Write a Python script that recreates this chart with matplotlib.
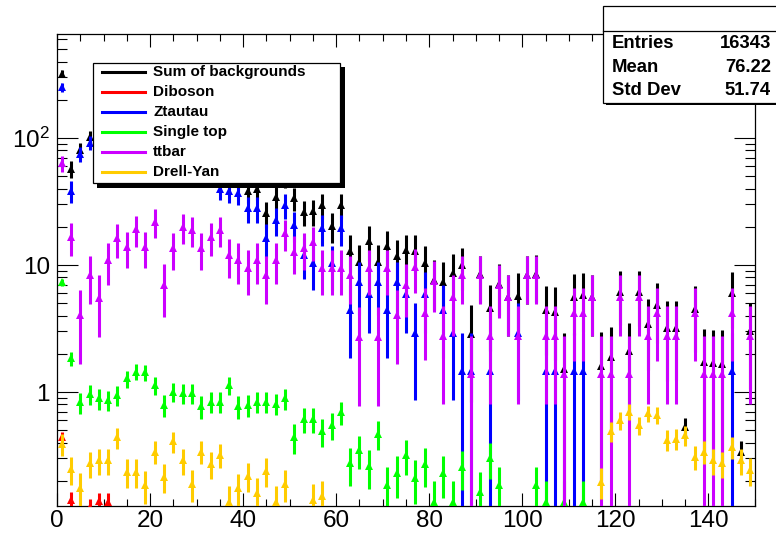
import numpy as np
import matplotlib
matplotlib.use("Agg")
import matplotlib.pyplot as plt
from matplotlib.patches import Rectangle
from matplotlib.lines import Line2D
from matplotlib.ticker import FixedLocator, FixedFormatter, MultipleLocator, LogLocator, NullFormatter

plt.rcParams.update({
    "font.family": ["Liberation Sans", "DejaVu Sans"],
    "mathtext.fontset": "custom",
    "mathtext.rm": "Liberation Sans",
    "mathtext.it": "Liberation Sans:italic",
    "mathtext.bf": "Liberation Sans:bold",
})

# --- binning: 75 bins of width 2 from 0 to 150 ---
bin_edges = np.arange(0, 152, 2)
centers = 0.5 * (bin_edges[:-1] + bin_edges[1:])

# --- values ---
sum_bkg = [322, 57.2, 80.0, 101.7, 101.8, 110.2, 113.6, 107.4, 108.8, 97.5,
           99.4, 80.0, 80.9, 83.3, 78.1, 68.6, 67.8, 60.1, 51.8, 48.9,
           38.3, 40.0, 25.6, 34.5, 48.6, 33.7, 26.1, 26.4, 29.5, 20.3,
           29.5, 13.0, 10.5, 15.5, 10.6, 14.0, 11.7, 13.1, 12.9, 10.3,
           7.64, 7.41, 8.70, 10.0, 2.86, 8.46, 4.55, 7.14, 5.56, 5.72,
           8.30, 8.49, 4.39, 4.25, 1.53, 5.64, 5.78, 5.56, 1.59, 1.88,
           6.16, 2.09, 6.11, 3.46, 4.83, 3.20, 3.21, 0.53, 4.48, 1.73,
           1.68, 1.66, 6.01, 0.34, 3.02]
sum_err = [21.4, 8.92, 10.8, 12.1, 12.1, 12.6, 12.8, 12.4, 12.5, 11.8,
           11.9, 10.7, 10.8, 10.9, 10.6, 9.9, 9.8, 9.2, 8.6, 8.3,
           7.4, 7.5, 5.9, 7.0, 8.3, 6.9, 6.0, 6.0, 6.45, 5.3,
           6.45, 4.24, 3.83, 4.65, 3.83, 4.43, 4.06, 4.27, 4.23, 3.78,
           3.23, 3.22, 3.48, 3.7, 2.02, 3.4, 2.45, 3.11, 2.78, 2.86,
           3.4, 3.4, 2.45, 2.45, 1.39, 2.82, 2.82, 2.78, 1.39, 1.39,
           2.78, 1.39, 2.78, 1.97, 2.41, 1.97, 1.97, 0.09, 2.41, 1.39,
           1.39, 1.39, 2.82, 0.07, 1.97]

diboson = [0.44, 0.14, 0, 0.125, 0.139, 0.137] + [0] * 69
diboson_err = [0.04, 0.022, 0, 0.02, 0.022, 0.022] + [0] * 69

ztautau = [251, 38.5, 75, 92, 95, 98, 96, 92, 88, 82,
           76, 72, 66, 62, 58, 54, 50, 40, 38.5, 37,
           27.9, 27.9, 16.2, 22.6, 29.7, 20.6, 12.0, 10.3, 19.4, 10.3,
           19.4, 4.41, 7.35, 5.88, 7.35, 4.41, 7.35, 5.88, 2.94, 5.88,
           0, 4.41, 2.94, 1.47, 1.47, 0, 1.47, 0, 0, 2.94,
           0, 0, 1.47, 1.47, 0, 1.47, 1.47, 0, 0, 0,
           0, 0, 0, 0, 0, 0, 0, 0, 0, 0,
           0, 0, 1.47, 0, 0]
ztautau_err = [19.2, 7.52, 10.5, 11.6, 11.8, 12.0, 11.9, 11.6, 11.4, 11.0,
               10.6, 10.3, 9.85, 9.55, 9.23, 8.91, 8.57, 7.67, 7.52, 7.37,
               6.4, 6.4, 4.88, 5.76, 6.61, 5.5, 4.2, 3.89, 5.34, 3.89,
               5.34, 2.55, 3.29, 2.94, 3.29, 2.55, 3.29, 2.94, 2.08, 2.94,
               0, 2.55, 2.08, 1.47, 1.47, 0, 1.47, 0, 0, 2.08,
               0, 0, 1.47, 1.47, 0, 1.47, 1.47, 0, 0, 0,
               0, 0, 0, 0, 0, 0, 0, 0, 0, 0,
               0, 0, 1.47, 0, 0]

single_top = [7.3, 1.84, 0.83, 0.96, 0.89, 0.865, 0.95, 1.28, 1.45, 1.43,
              1.13, 0.79, 1.0, 0.98, 0.98, 0.77, 0.84, 0.84, 1.13, 0.77,
              0.79, 0.84, 0.84, 0.81, 0.89, 0.44, 0.61, 0.61, 0.49, 0.55,
              0.69, 0.274, 0.35, 0.26, 0.47, 0.185, 0.23, 0.32, 0.21, 0.27,
              0.137, 0.229, 0.137, 0.258, 0, 0.164, 0.30, 0.185, 0, 0,
              0, 0.185, 0.137, 0, 0.137, 0, 0.137, 0, 0, 0,
              0, 0, 0, 0, 0, 0, 0, 0, 0, 0,
              0, 0, 0, 0, 0]
single_top_err = [0.47, 0.235, 0.158, 0.17, 0.163, 0.161, 0.169, 0.196, 0.209, 0.207,
                  0.184, 0.154, 0.173, 0.171, 0.171, 0.152, 0.159, 0.159, 0.184, 0.152,
                  0.154, 0.159, 0.159, 0.156, 0.163, 0.115, 0.135, 0.135, 0.121, 0.128,
                  0.144, 0.091, 0.102, 0.088, 0.119, 0.074, 0.083, 0.098, 0.079, 0.09,
                  0.064, 0.083, 0.064, 0.088, 0, 0.07, 0.095, 0.074, 0, 0,
                  0, 0.074, 0.064, 0, 0.064, 0, 0.064, 0, 0, 0,
                  0, 0, 0, 0, 0, 0, 0, 0, 0, 0,
                  0, 0, 0, 0, 0]

ttbar = [63, 16.5, 4.04, 8.3, 5.5, 10.9, 16.2, 13.9, 19.1, 13.9,
         21.9, 7.0, 13.5, 20.0, 18.9, 13.5, 16.7, 18.9, 12.0, 11.0,
         9.4, 11.0, 8.3, 11.0, 17.8, 12.7, 13.5, 15.3, 9.4, 9.4,
         9.4, 8.3, 2.73, 9.4, 2.73, 9.4, 4.04, 7.0, 9.7, 4.2,
         7.5, 2.78, 5.56, 8.3, 1.39, 8.3, 2.78, 6.95, 5.56, 2.78,
         8.3, 8.3, 2.78, 2.78, 1.39, 4.17, 4.17, 5.56, 1.39, 1.39,
         5.56, 1.39, 5.56, 2.78, 4.17, 2.78, 2.78, 0, 4.17, 1.39,
         1.39, 1.39, 4.17, 0, 2.78]
ttbar_err = [9.36, 4.79, 2.37, 3.4, 2.77, 3.89, 4.75, 4.4, 5.15, 4.4,
             5.52, 3.12, 4.33, 5.27, 5.13, 4.33, 4.82, 5.13, 4.08, 3.91,
             3.61, 3.91, 3.4, 3.91, 4.97, 4.2, 4.33, 4.61, 3.61, 3.61,
             3.61, 3.4, 1.95, 3.61, 1.95, 3.61, 2.37, 3.12, 3.67, 2.42,
             3.23, 1.97, 2.78, 3.4, 1.39, 3.4, 1.97, 3.11, 2.78, 1.97,
             3.4, 3.4, 1.97, 1.97, 1.39, 2.41, 2.41, 2.78, 1.39, 1.39,
             2.78, 1.39, 2.78, 1.97, 2.41, 1.97, 1.97, 0, 2.41, 1.39,
             1.39, 1.39, 2.41, 0, 1.97]

drell_yan = [0.39, 0.246, 0.177, 0.275, 0.29, 0.29, 0.44, 0.236, 0.236, 0.185,
             0.34, 0.216, 0.41, 0.29, 0.19, 0.34, 0.27, 0.32, 0.137, 0.174,
             0.22, 0.16, 0.24, 0.137, 0.19, 0, 0, 0.141, 0.152, 0,
             0, 0, 0, 0, 0, 0, 0, 0, 0, 0,
             0, 0, 0, 0, 0, 0, 0, 0, 0, 0,
             0, 0, 0, 0, 0, 0, 0, 0, 0.197, 0.49,
             0.60, 0.70, 0.55, 0.68, 0.66, 0.42, 0.43, 0.46, 0.31, 0.34,
             0.29, 0.274, 0.37, 0.29, 0.243]
drell_yan_err = [0.076, 0.061, 0.052, 0.064, 0.066, 0.066, 0.081, 0.06, 0.06, 0.053,
                 0.071, 0.057, 0.078, 0.066, 0.053, 0.071, 0.064, 0.069, 0.045, 0.051,
                 0.057, 0.049, 0.06, 0.045, 0.053, 0, 0, 0.046, 0.048, 0,
                 0, 0, 0, 0, 0, 0, 0, 0, 0, 0,
                 0, 0, 0, 0, 0, 0, 0, 0, 0, 0,
                 0, 0, 0, 0, 0, 0, 0, 0, 0.054, 0.086,
                 0.095, 0.102, 0.091, 0.101, 0.099, 0.079, 0.08, 0.083, 0.068, 0.071,
                 0.066, 0.064, 0.074, 0.066, 0.06]

labels = ["Sum of backgrounds", "Diboson", "Ztautau", "Single top", "ttbar", "Drell-Yan"]
colors = ["#000000", "#ff0000", "#0000ff", "#00ff00", "#cc00ff", "#ffcc00"]
values = [sum_bkg, diboson, ztautau, single_top, ttbar, drell_yan]
errors = [sum_err, diboson_err, ztautau_err, single_top_err, ttbar_err, drell_yan_err]

stat_names = ["Entries", "Mean", "Std Dev"]
stat_vals = ["16343", "76.22", "51.74"]

# --- figure, pixel helpers ---
W, H = 776, 538
fig = plt.figure(figsize=(W / 100, H / 100), dpi=100)


def fx(px):
    return px / W


def fy(py):
    return 1 - py / H


ax = fig.add_axes([fx(57), fy(506), fx(755) - fx(57), fy(34) - fy(506)])
ax.set_yscale("log")

for z, (vals, errs, col) in enumerate(zip(values, errors, colors)):
    v = np.asarray(vals, float)
    e = np.asarray(errs, float)
    m = v > 0
    lo = np.minimum(e[m], v[m] - 1e-4)
    ax.errorbar(centers[m], v[m], yerr=[lo, e[m]], fmt="^", color=col,
                ms=6, mew=0, elinewidth=2.2, capsize=0, zorder=2 + z)

ax.set_xlim(0, 150)
ax.set_ylim(0.1266, 659)

ax.xaxis.set_major_locator(MultipleLocator(20))
ax.xaxis.set_minor_locator(MultipleLocator(5))
ax.yaxis.set_major_locator(FixedLocator([1, 10, 100]))
ax.yaxis.set_major_formatter(FixedFormatter(["1", "10", r"$10^{2}$"]))
ax.yaxis.set_minor_locator(LogLocator(base=10, subs=np.arange(2, 10)))
ax.yaxis.set_minor_formatter(NullFormatter())

ax.tick_params(which="both", direction="in", top=True, right=True, width=0.8, labelsize=17.5)
ax.tick_params(axis="x", which="major", length=9.4, pad=3)
ax.tick_params(axis="x", which="minor", length=5)
ax.tick_params(axis="y", which="major", length=15, pad=5)
ax.tick_params(axis="y", which="minor", length=7.2)
for s in ax.spines.values():
    s.set_linewidth(0.9)

# --- legend box with shadow ---
fig.add_artist(Rectangle((fx(97), fy(188)), fx(345) - fx(97), fy(67) - fy(188),
                         transform=fig.transFigure, facecolor="k", edgecolor="none", zorder=10))
fig.add_artist(Rectangle((fx(93), fy(183)), fx(340) - fx(93), fy(63) - fy(183),
                         transform=fig.transFigure, facecolor="white", edgecolor="k",
                         linewidth=0.9, zorder=11))
rows = [72, 92, 112, 132, 152, 172]
for yr, lab, col in zip(rows, labels, colors):
    fig.add_artist(Line2D([fx(102), fx(145)], [fy(yr), fy(yr)], color=col, lw=2.2,
                          transform=fig.transFigure, zorder=12))
    fig.text(fx(153), fy(yr), lab, fontsize=11, fontweight="bold", ha="left",
             va="center", zorder=12)

# --- stats box ---
fig.add_artist(Rectangle((fx(606), fy(105)), fx(800) - fx(606), fy(9) - fy(105),
                         transform=fig.transFigure, facecolor="k", edgecolor="none", zorder=10))
fig.add_artist(Rectangle((fx(603), fy(103)), fx(800) - fx(603), fy(6) - fy(103),
                         transform=fig.transFigure, facecolor="white", edgecolor="k",
                         linewidth=0.9, zorder=11))
fig.add_artist(Line2D([fx(603), fx(800)], [fy(31), fy(31)], color="k", lw=0.9,
                      transform=fig.transFigure, zorder=12))
for yr, name, val in zip([43, 67, 91], stat_names, stat_vals):
    fig.text(fx(612), fy(yr), name, fontsize=13.3, fontweight="bold", ha="left",
             va="center", zorder=12)
    fig.text(fx(771), fy(yr), val, fontsize=13.3, fontweight="bold", ha="right",
             va="center", zorder=12)

fig.savefig("out.png", dpi=100, facecolor="white")
